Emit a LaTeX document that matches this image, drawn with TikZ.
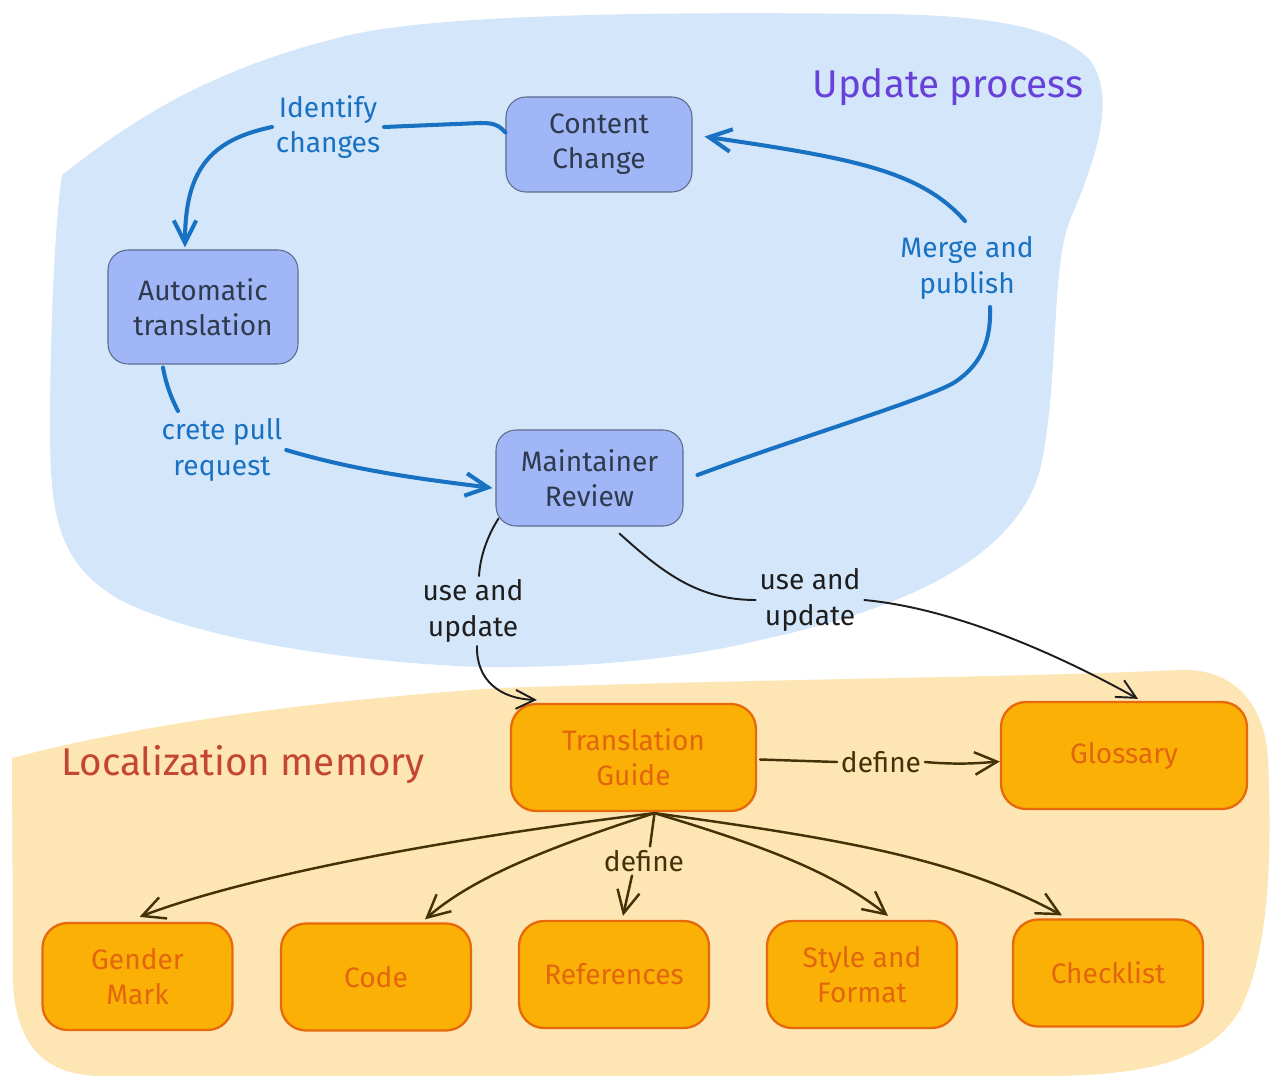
\documentclass[tikz,border=0pt]{standalone}
\usepackage{fontspec}
\setmainfont{Fira Sans}
\usetikzlibrary{arrows.meta,calc}
\definecolor{bluebg}{HTML}{D3E6FA}
\definecolor{bfill}{HTML}{A0B6F7}
\definecolor{bstroke}{HTML}{5C6B8A}
\definecolor{btext}{HTML}{2F3A4D}
\definecolor{bline}{HTML}{1971C2}
\definecolor{ptitle}{HTML}{6741D9}
\definecolor{orangebg}{HTML}{FDE6B4}
\definecolor{ofill}{HTML}{FAB005}
\definecolor{ostroke}{HTML}{E8690C}
\definecolor{otext}{HTML}{E2660E}
\definecolor{rtitle}{HTML}{C44530}
\definecolor{kline}{HTML}{1E1E1E}
\definecolor{dline}{HTML}{433208}
\begin{document}
\begin{tikzpicture}[x=0.02cm,y=-0.02cm,
  txt/.style={font=\fontsize{16}{20}\selectfont, align=center},
  bnode/.style={txt, draw=bstroke, fill=bfill, text=btext, rounded corners=0.4cm, line width=0.6pt, inner sep=0pt},
  onode/.style={txt, draw=ostroke, fill=ofill, text=otext, rounded corners=0.5cm, line width=1.3pt, inner sep=0pt, minimum width=3.8cm, minimum height=2.14cm},
  blbl/.style={txt, text=bline, inner sep=2pt},
  klbl/.style={txt, text=kline, inner sep=2pt},
  dlbl/.style={txt, text=dline, inner sep=2pt},
  bcon/.style={draw=bline, line width=2.3pt, line cap=round},
  kcon/.style={draw=kline, line width=1.1pt, line cap=round},
  dcon/.style={draw=dline, line width=1.4pt, line cap=round},
  tip/.style={-{Straight Barb[length=4.5mm,width=4.5mm]}},
  smalltip/.style={-{Straight Barb[length=3.8mm,width=3.8mm]}},
  title/.style={font=\fontsize{22}{26}\selectfont}
]
\useasboundingbox (0,0) rectangle (1281,1085);
\fill[white] (0,0) rectangle (1281,1085);

% background blobs
\fill[bluebg] (62,175) .. controls (120,130) and (200,70) .. (350,35)
  .. controls (450,12) and (700,12) .. (880,14)
  .. controls (1000,15) and (1060,30) .. (1090,60)
  .. controls (1115,95) and (1100,150) .. (1070,220)
  .. controls (1050,270) and (1060,380) .. (1040,470)
  .. controls (1015,560) and (900,610) .. (760,640)
  .. controls (680,660) and (580,668) .. (480,667)
  .. controls (350,662) and (200,640) .. (120,600)
  .. controls (60,565) and (50,520) .. (50,430)
  .. controls (50,330) and (55,220) .. (62,175) -- cycle;
\fill[orangebg] (12,758) .. controls (100,735) and (250,705) .. (500,688)
  .. controls (800,678) and (1000,678) .. (1180,670)
  .. controls (1230,668) and (1265,700) .. (1268,760)
  .. controls (1272,850) and (1270,950) .. (1240,1010)
  .. controls (1210,1060) and (1150,1075) .. (1050,1076)
  -- (100,1076)
  .. controls (40,1075) and (15,1040) .. (13,980) -- cycle;

% titles
\node[title, text=ptitle] (t1) at (948,87) {Update process};
\node[title, text=rtitle] (t2) at (243,765) {Localization memory};

% blue nodes
\node[bnode, minimum width=3.72cm, minimum height=1.9cm] (cc) at (599,144.5) {Content\\Change};
\node[bnode, minimum width=3.8cm, minimum height=2.28cm] (at) at (203,307) {Automatic\\translation};
\node[bnode, minimum width=3.74cm, minimum height=1.92cm] (mr) at (589.5,478) {Maintainer\\Review};

% orange nodes
\node[onode, minimum width=4.9cm] (tg) at (633.5,757.5) {Translation\\Guide};
\node[onode, minimum width=4.92cm] (gl) at (1124,755.5) {Glossary};
\node[onode] (gm) at (137.5,976.5) {Gender\\Mark};
\node[onode] (co) at (376,977) {Code};
\node[onode] (rf) at (614,974.5) {References};
\node[onode] (sf) at (862,974.5) {Style and\\Format};
\node[onode] (cl) at (1108,973) {Checklist};

% labels
\node[blbl] (idc) at (328,127) {Identify\\changes};
\node[blbl] (cpr) at (222,450) {crete pull\\request};
\node[blbl] (mp) at (967,268) {Merge and\\publish};
\node[klbl] (uu1) at (473,611) {use and\\update};
\node[klbl] (uu2) at (810,600) {use and\\update};
\node[dlbl] (df1) at (881,762) {define};
\node[dlbl] (df2) at (644,861) {define};

% blue connectors
\draw[bcon] ($(cc.west)+(0,-12)$) .. controls (498,124) and (492,123) .. (480,123) -- (idc.east);
\draw[bcon,tip] (idc.west) .. controls (210,140) and (185,170) .. ($(at.north)+(-18,-2)$);
\draw[bcon] ($(at.south)+(-40,3)$) .. controls (167,390) and (175,405) .. ($(cpr.north)+(-44,-4)$);
\draw[bcon,tip] (cpr.east) .. controls (360,472) and (430,480) .. ($(mr.west)+(-3,10)$);
\draw[bcon] ($(mr.east)+(14,-3)$) .. controls (800,437) and (930,398) .. (955,382)
  .. controls (985,362) and (991,335) .. ($(mp.south)+(23,4)$);
\draw[bcon,tip] ($(mp.north)+(-2,-12)$) .. controls (920,170) and (850,158) .. ($(cc.east)+(12,-8)$);

% black connectors
\draw[kcon] ($(mr.south west)+(3,-8)$) .. controls (485,540) and (480,560) .. ($(uu1.north)+(6,0)$);
\draw[kcon,smalltip] ($(uu1.south)+(4,0)$) .. controls (476,680) and (500,699) .. ($(tg.north west)+(27,-3)$);
\draw[kcon] ($(mr.south)+(30,7)$) .. controls (665,575) and (700,600) .. (uu2.west);
\draw[kcon,smalltip] (uu2.east) .. controls (950,608) and (1050,650) .. ($(gl.north)+(14,-2)$);

% brown connectors
\draw[dcon] ($(tg.east)+(3,2)$) -- (df1.west);
\draw[dcon,tip] (df1.east) .. controls (960,765) and (980,763) .. ($(gl.west)+(0,6)$);
\coordinate (tgb) at ($(tg.south)+(21,1)$);
\draw[dcon,tip] (tgb) .. controls (450,838) and (250,875) .. ($(gm.north)+(2,-5)$);
\draw[dcon,tip] (tgb) .. controls (540,850) and (470,880) .. ($(co.north)+(49,-3)$);
\draw[dcon] (tgb) -- ($(df2.north)+(6,0)$);
\draw[dcon,tip] ($(df2.south)+(-12,0)$) -- ($(rf.north)+(9,-4)$);
\draw[dcon,tip] (tgb) .. controls (760,845) and (830,870) .. ($(sf.north)+(26,-4)$);
\draw[dcon,tip] (tgb) .. controls (850,840) and (960,860) .. ($(cl.north)+(-46,-3)$);
\end{tikzpicture}
\end{document}
